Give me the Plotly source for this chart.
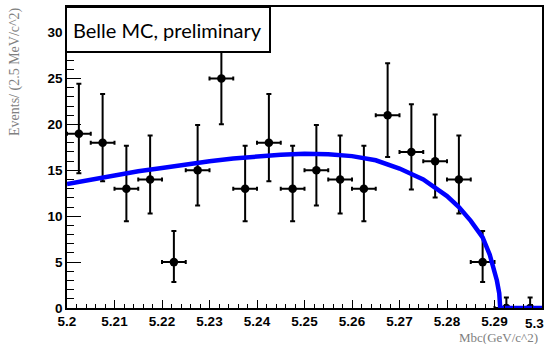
import plotly.graph_objects as go

# ---- data ----
mbc = [5.2025, 5.2075, 5.2125, 5.2175, 5.2225, 5.2275, 5.2325, 5.2375, 5.2425, 5.2475,
       5.2525, 5.2575, 5.2625, 5.2675, 5.2725, 5.2775, 5.2825, 5.2875, 5.2925, 5.2975]
events = [19, 18, 13, 14, 5, 15, 25, 13, 18, 13, 15, 14, 13, 21, 17, 16, 14, 5, 0, 0]
err_up = [5.44, 5.32, 4.67, 4.80, 3.38, 4.95, 6.08, 4.67, 5.32, 4.67,
          4.95, 4.80, 4.67, 5.66, 5.20, 5.08, 4.80, 3.38, 1.15, 1.15]
err_dn = [4.32, 4.20, 3.56, 3.70, 2.16, 3.83, 4.97, 3.56, 4.20, 3.56,
          3.83, 3.70, 3.56, 4.55, 4.08, 3.96, 3.70, 2.16, 0.0, 0.0]
half_bin = [0.0025] * 20

fit_x = [5.2, 5.205, 5.21, 5.215, 5.22, 5.225, 5.23, 5.235, 5.24, 5.245, 5.25, 5.255,
         5.26, 5.265, 5.27, 5.275, 5.28, 5.2825, 5.285, 5.2875, 5.289, 5.29, 5.2905,
         5.291, 5.2912, 5.3]
fit_y = [13.5, 14.0, 14.45, 14.9, 15.25, 15.65, 16.0, 16.3, 16.55, 16.7, 16.8, 16.75,
         16.55, 16.1, 15.2, 14.0, 12.2, 11.0, 9.5, 7.7, 5.8, 4.1, 3.0, 1.6, 0.0, 0.0]

x_ticks = [5.2, 5.21, 5.22, 5.23, 5.24, 5.25, 5.26, 5.27, 5.28, 5.29, 5.3]
x_ticklabels = ["5.2", "5.21", "5.22", "5.23", "5.24", "5.25", "5.26", "5.27", "5.28", "5.29", "5.3"]
y_ticks = [0, 5, 10, 15, 20, 25, 30]

W, H = 548, 344
L, R, T, B = 67, 6, 7, 36
PW, PH = W - L - R, H - T - B

def px(x):
    return (x - L) / PW

def py(y):
    return (H - B - y) / PH

fig = go.Figure()
fig.add_trace(go.Scatter(
    x=mbc, y=events, mode="markers",
    marker=dict(color="black", size=8.5),
    error_y=dict(type="data", symmetric=False, array=err_up, arrayminus=err_dn,
                 color="black", thickness=2, width=2.5),
    error_x=dict(type="data", array=half_bin, color="black", thickness=2, width=2),
    showlegend=False, hoverinfo="skip"))
fig.add_trace(go.Scatter(
    x=fit_x, y=fit_y, mode="lines",
    line=dict(color="#0000ff", width=4.5),
    showlegend=False, hoverinfo="skip"))

tickfont = dict(family="Liberation Sans", size=13.5, color="black", weight="bold")
fig.update_xaxes(range=[5.2, 5.3], tickvals=x_ticks[:-1], ticktext=x_ticklabels[:-1],
                 ticks="inside", ticklen=8, tickwidth=1.3, tickcolor="black",
                 minor=dict(ticks="inside", ticklen=4, dtick=0.002, tick0=5.2,
                            tickcolor="black", tickwidth=1.3),
                 showline=True, linecolor="black", linewidth=1.5, mirror=True,
                 showgrid=False, zeroline=False, tickfont=tickfont)
fig.update_yaxes(range=[0, 32.8], tickvals=y_ticks,
                 ticks="inside", ticklen=14, tickwidth=1.3, tickcolor="black",
                 minor=dict(ticks="inside", ticklen=7, dtick=1, tick0=0,
                            tickcolor="black", tickwidth=1.3),
                 showline=True, linecolor="black", linewidth=1.5, mirror=True,
                 showgrid=False, zeroline=False, tickfont=tickfont)

# last x tick label, kept inside the page
fig.add_annotation(text=x_ticklabels[-1], xref="x", yref="paper",
                   x=x_ticks[-1], y=py(323), xanchor="right", yanchor="middle",
                   xshift=4, showarrow=False, font=tickfont)

fig.add_shape(type="rect", xref="paper", yref="paper",
              x0=px(66), x1=px(270), y0=py(52), y1=py(7),
              line=dict(color="black", width=2), fillcolor="white", layer="above")
fig.add_annotation(text="Belle MC, preliminary", xref="paper", yref="paper",
                   x=px(71), y=py(30), xanchor="left", yanchor="middle",
                   showarrow=False, font=dict(family="Lato", size=20, color="black"))
fig.add_annotation(text="Events/ (2.5 MeV/c^2)", xref="paper", yref="paper",
                   x=px(15), y=py(72), xanchor="center", yanchor="middle",
                   textangle=-90, showarrow=False,
                   font=dict(family="Liberation Serif", size=14, color="#808080"))
fig.add_annotation(text="Mbc(GeV/c^2)", xref="paper", yref="paper",
                   x=px(540), y=py(337), xanchor="right", yanchor="middle",
                   showarrow=False,
                   font=dict(family="Liberation Serif", size=13, color="#808080"))

fig.update_layout(width=W, height=H, margin=dict(l=L, r=R, t=T, b=B, autoexpand=False),
                  plot_bgcolor="white", paper_bgcolor="white")
fig.write_html("out.html")
